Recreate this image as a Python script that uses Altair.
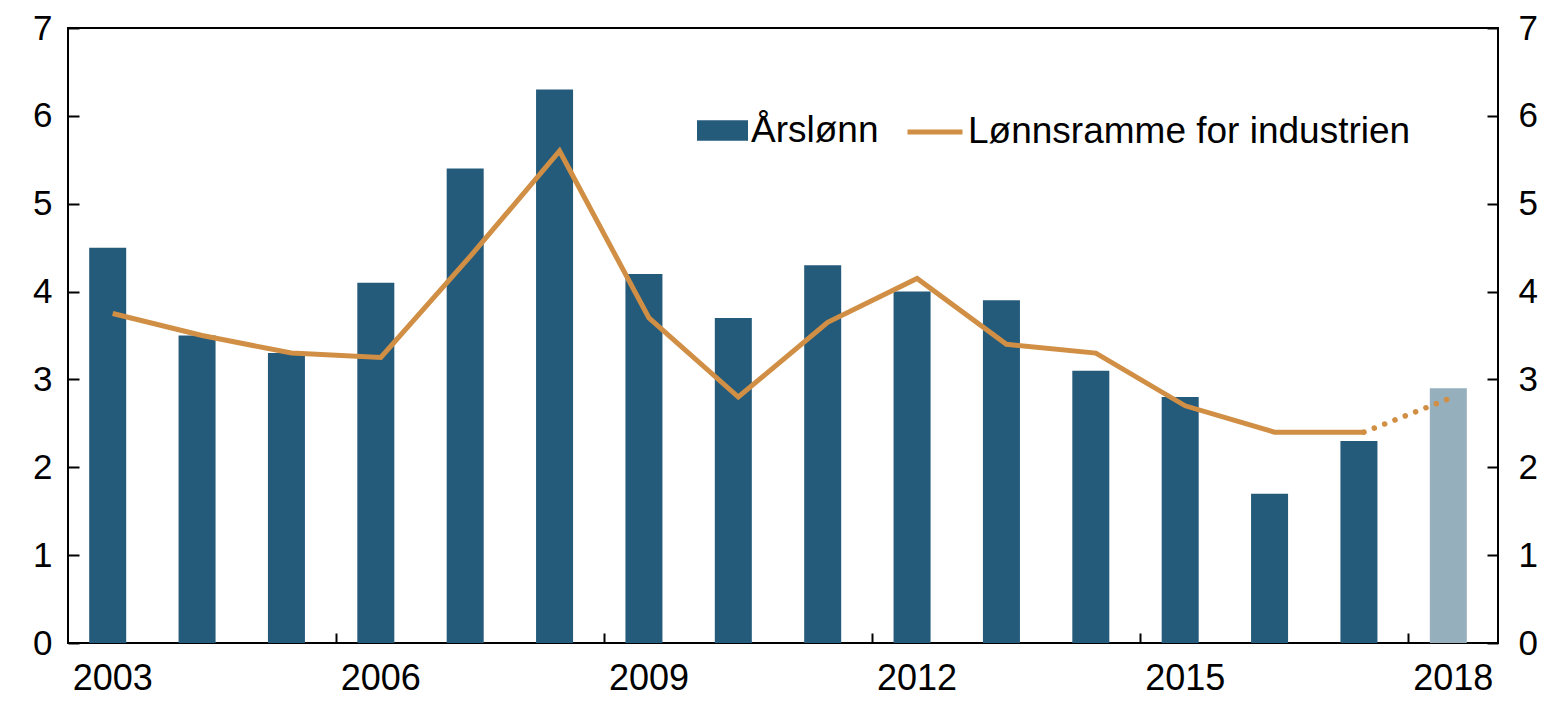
import altair as alt
import pandas as pd

years = [str(y) for y in range(2003, 2019)]
arslonn = [4.5, 3.5, 3.3, 4.1, 5.4, 6.3, 4.2, 3.7, 4.3, 4.0, 3.9, 3.1, 2.8, 1.7, 2.3, 2.9]
ramme = [3.75, 3.5, 3.3, 3.25, 4.4, 5.6, 3.7, 2.8, 3.65, 4.15, 3.4, 3.3, 2.7, 2.4, 2.4, 2.8]
x_labels = ["2003", "2006", "2009", "2012", "2015", "2018"]
x_ticks = ["2006", "2009", "2012", "2015", "2018"]
y_ticks = [0, 1, 2, 3, 4, 5, 6, 7]

DARK = "#245a7a"
LIGHT = "#95afbd"
ORANGE = "#d08f45"
FONT = "Liberation Sans"
FS = 36
YFS = 35
LFS = 37
W, H = 1430, 615

df = pd.DataFrame({"year": years, "arslonn": arslonn, "ramme": ramme})
df["bar_series"] = "Årslønn"
df["line_series"] = "Lønnsramme for industrien"

xscale = alt.Scale(domain=years, paddingInner=0, paddingOuter=0)
yscale = alt.Scale(domain=[0, 7], nice=False)

base = alt.Chart(df)

bars = base.transform_filter(alt.datum.year != "2018").mark_bar(width=37, xOffset=-5).encode(
    x=alt.X("year:O", scale=xscale, title=None,
            axis=alt.Axis(orient="bottom", values=x_labels, ticks=False, domain=False,
                          labelAngle=0, labelFontSize=FS, labelFont=FONT, labelColor="black",
                          labelPadding=18)),
    y=alt.Y("arslonn:Q", scale=yscale, title=None,
            axis=alt.Axis(orient="left", values=y_ticks, ticks=False, domain=False,
                          labelFontSize=YFS, labelFont=FONT, labelColor="black",
                          labelPadding=16)),
    fill=alt.Fill("bar_series:N", scale=alt.Scale(domain=["Årslønn"], range=[DARK]),
                  legend=alt.Legend(orient="none", legendX=629, legendY=77, title=None,
                                    symbolType="M-1,-0.4H1V0.4H-1Z", symbolSize=2601,
                                    symbolStrokeWidth=0, labelFontSize=LFS, labelFont=FONT,
                                    labelColor="black", labelOffset=3, padding=0,
                                    labelLimit=800)),
)

bar18 = base.transform_filter(alt.datum.year == "2018").mark_bar(width=37, xOffset=-5, color=LIGHT).encode(
    x=alt.X("year:O", scale=xscale, title=None,
            axis=alt.Axis(orient="top", offset=-H, values=x_ticks, bandPosition=0,
                          labels=False, domain=False, ticks=True, tickSize=10,
                          tickWidth=2, tickColor="black")),
    y=alt.Y("arslonn:Q", scale=yscale, title=None,
            axis=alt.Axis(orient="right", values=y_ticks, ticks=False, domain=False,
                          labelFontSize=YFS, labelFont=FONT, labelColor="black",
                          labelPadding=20)),
)

line = base.transform_filter(alt.datum.year != "2018").mark_line(strokeWidth=5).encode(
    x=alt.X("year:O", scale=xscale, title=None, axis=None),
    y=alt.Y("ramme:Q", scale=yscale, title=None,
            axis=alt.Axis(orient="right", offset=-W, values=y_ticks, labels=False,
                          domain=False, ticks=True, tickSize=11, tickWidth=2,
                          tickColor="black")),
    stroke=alt.Stroke("line_series:N",
                      scale=alt.Scale(domain=["Lønnsramme for industrien"], range=[ORANGE]),
                      legend=alt.Legend(orient="none", legendX=837, legendY=74, title=None,
                                        symbolType="stroke", symbolSize=3025,
                                        symbolStrokeWidth=5, labelFontSize=LFS,
                                        labelFont=FONT, labelColor="black",
                                        labelOffset=3, padding=0, labelLimit=800)),
)

dotted = base.transform_filter((alt.datum.year == "2017") | (alt.datum.year == "2018")).mark_line(
    strokeWidth=5.5, strokeDash=[0.1, 11], strokeCap="round", color=ORANGE
).encode(
    x=alt.X("year:O", scale=xscale, title=None, axis=None),
    y=alt.Y("ramme:Q", scale=yscale, title=None,
            axis=alt.Axis(orient="left", offset=-W, values=y_ticks, labels=False,
                          domain=False, ticks=True, tickSize=11, tickWidth=2,
                          tickColor="black")),
)

chart = alt.layer(bars, bar18, line, dotted).resolve_axis(
    x="independent", y="independent"
).properties(
    width=W, height=H,
    autosize=alt.AutoSizeParams(type="none"),
    padding={"left": 60, "top": 20, "right": 48, "bottom": 53},
).configure_view(stroke="black", strokeWidth=2).configure_axis(grid=False)

chart.save("out.html", embed_options={"renderer": "svg", "actions": False})
